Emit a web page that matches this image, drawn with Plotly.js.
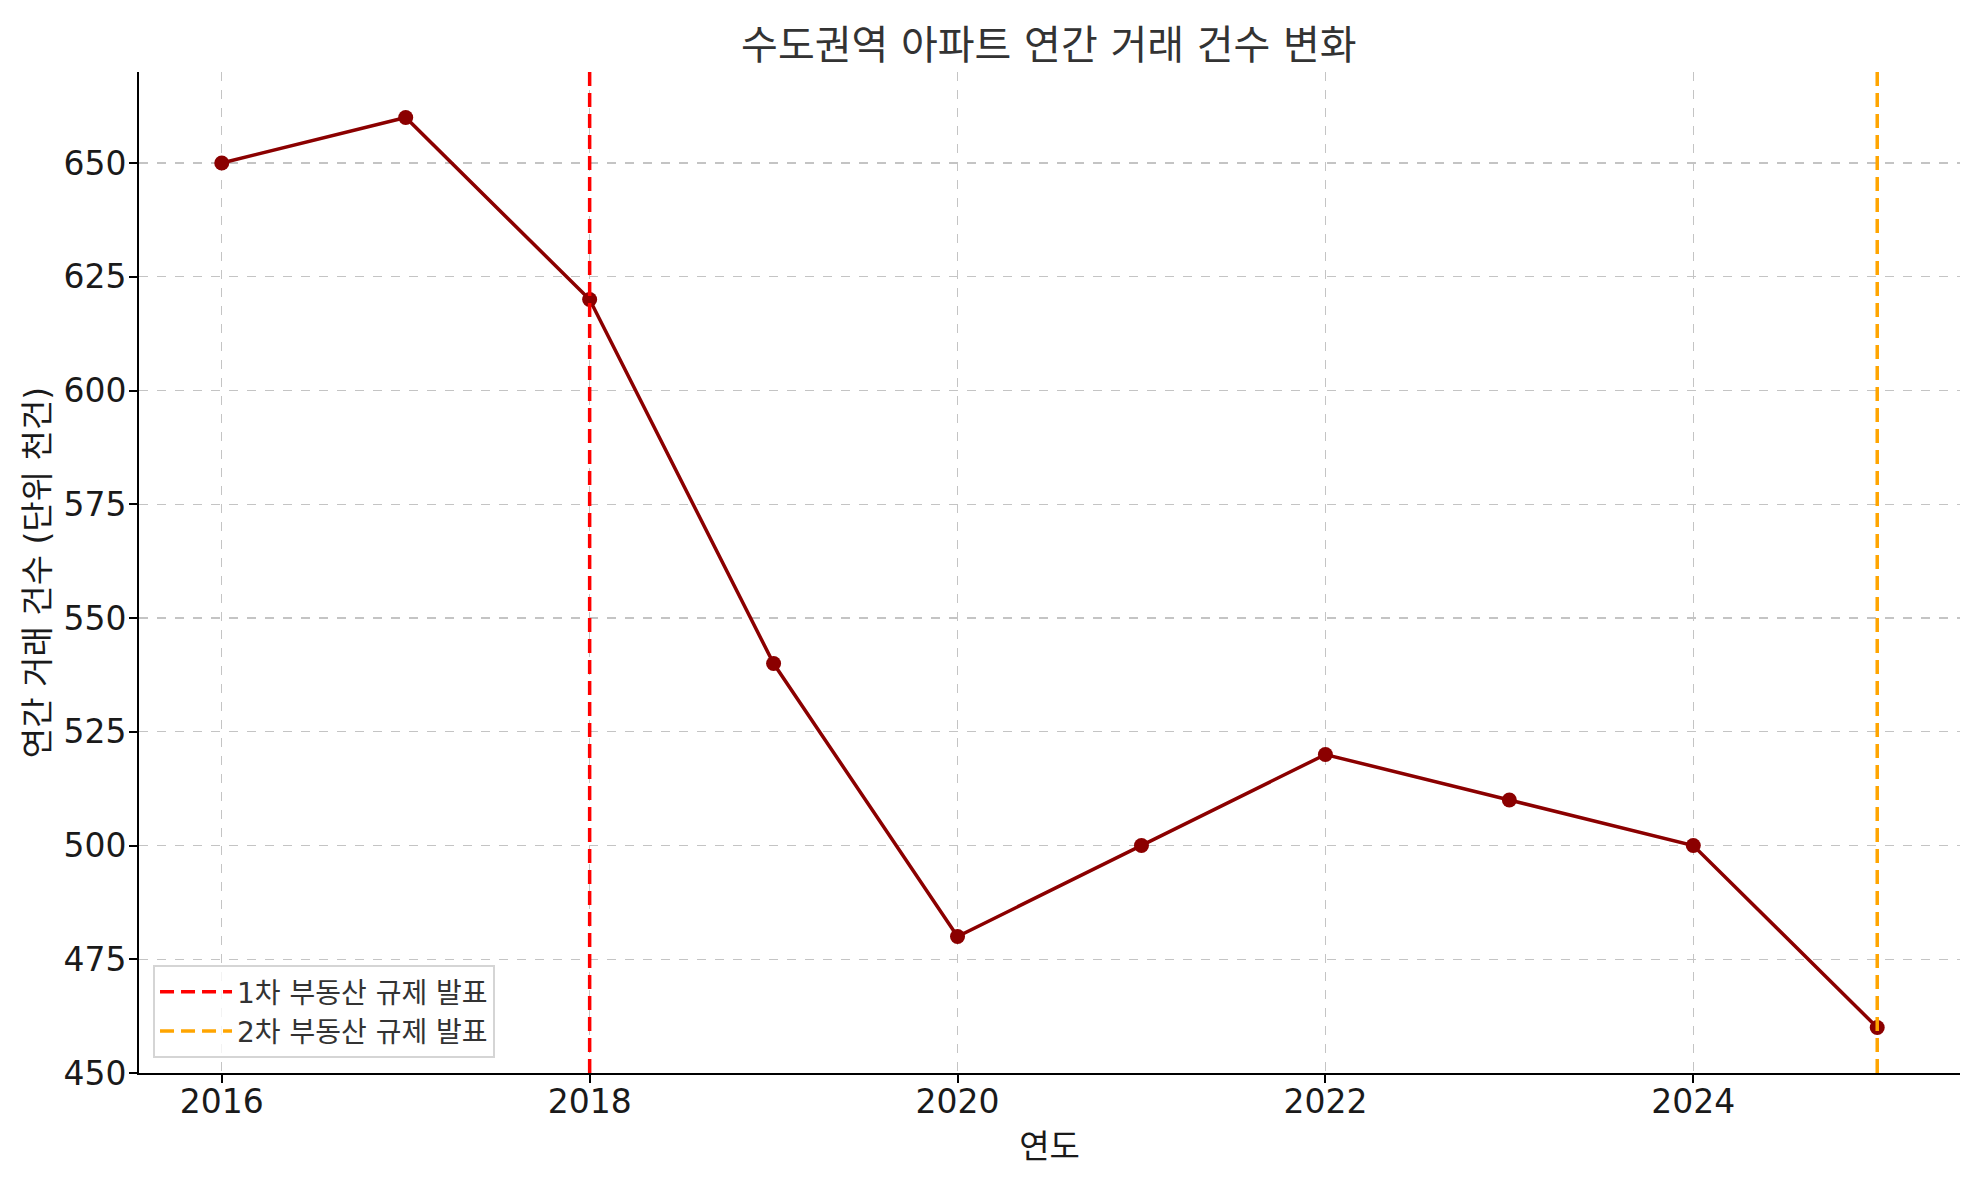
<!DOCTYPE html>
<html>
<head>
<meta charset="utf-8">
<script src="https://cdn.plot.ly/plotly-3.0.1.min.js"></script>
<style>html,body{margin:0;padding:0;background:#fff;}#chart{width:1979px;height:1180px;}</style>
</head>
<body>
<div id="chart"></div>
<script>
// Data
const years = [2016, 2017, 2018, 2019, 2020, 2021, 2022, 2023, 2024, 2025];
const values = [650, 660, 620, 540, 480, 500, 520, 510, 500, 460];
const eventYears = [2018, 2025];
const eventLabels = ['1차 부동산 규제 발표', '2차 부동산 규제 발표'];
const yRange = [450, 670];
const xTicks = [2016, 2018, 2020, 2022, 2024];
const yTicks = [450, 475, 500, 525, 550, 575, 600, 625, 650];
const titleText = '수도권역 아파트 연간 거래 건수 변화';
const xTitle = '연도';
const yTitle = '연간 거래 건수 (단위 천건)';

const FONT = 'DejaVu Sans, "Noto Sans CJK KR", sans-serif';
const eventColors = ['#ff0000', '#ffa500'];

const traces = [{
  x: years, y: values, type: 'scatter', mode: 'lines+markers',
  line: {color: '#8b0000', width: 3.5}, marker: {color: '#8b0000', size: 15},
  showlegend: false, hoverinfo: 'x+y'
}];
eventYears.forEach((yr, i) => {
  traces.push({
    x: [yr, yr], y: yRange, type: 'scatter', mode: 'lines',
    name: eventLabels[i],
    line: {color: eventColors[i], width: 3.5, dash: '14px,7px'}
  });
});

const layout = {
  width: 1979, height: 1180,
  margin: {l: 139, r: 19, t: 72, b: 107},
  paper_bgcolor: '#fff', plot_bgcolor: '#fff',
  font: {family: FONT, size: 22, color: '#222'},
  title: {text: titleText, font: {family: FONT, size: 40, color: '#333'}, x: 0.530, xanchor: 'center', y: 0.962, yanchor: 'middle'},
  xaxis: {
    range: [2015.55, 2025.45], tickvals: xTicks,
    showgrid: true, gridcolor: '#c4c4c4', griddash: 'dash', gridwidth: 1.2,
    showline: true, linecolor: '#000', linewidth: 2, mirror: false,
    ticks: 'outside', ticklen: 8, tickwidth: 2, tickcolor: '#000',
    ticklabelstandoff: -10,
    tickfont: {family: FONT, size: 33, color: '#1a1a1a'}, zeroline: false,
    title: {text: xTitle, font: {family: FONT, size: 33, color: '#1a1a1a'}, standoff: 15}
  },
  yaxis: {
    range: yRange, tickvals: yTicks,
    showgrid: true, gridcolor: '#c4c4c4', griddash: 'dash', gridwidth: 1.2,
    showline: true, linecolor: '#000', linewidth: 2,
    ticks: 'outside', ticklen: 8, tickwidth: 2, tickcolor: '#000',
    ticklabelstandoff: -4,
    tickfont: {family: FONT, size: 33, color: '#1a1a1a'}, zeroline: false,
    title: {text: yTitle, font: {family: FONT, size: 33, color: '#1a1a1a'}, standoff: 4}
  },
  legend: {
    x: 0.0077, y: 0.015, xanchor: 'left', yanchor: 'bottom',
    bgcolor: 'rgba(255,255,255,0.8)', bordercolor: '#d5d5d5', borderwidth: 2,
    font: {family: FONT, size: 28, color: '#333'}, tracegroupgap: 4, itemwidth: 72
  },
  showlegend: true
};

Plotly.newPlot('chart', traces, layout, {displayModeBar: false, staticPlot: true});
</script>
</body>
</html>
